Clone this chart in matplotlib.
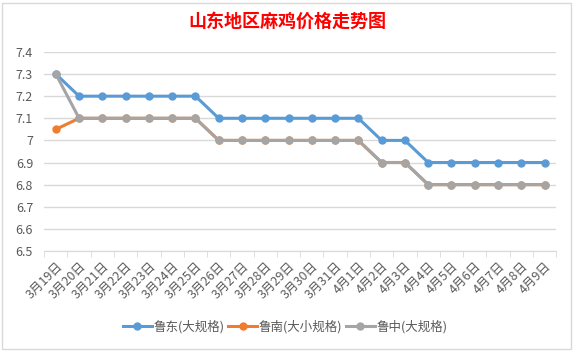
import matplotlib.pyplot as plt
from matplotlib.patches import Rectangle

plt.rcParams['font.family'] = ['Noto Sans CJK SC', 'DejaVu Sans']

dates = ['3月19日', '3月20日', '3月21日', '3月22日', '3月23日', '3月24日', '3月25日',
         '3月26日', '3月27日', '3月28日', '3月29日', '3月30日', '3月31日', '4月1日',
         '4月2日', '4月3日', '4月4日', '4月5日', '4月6日', '4月7日', '4月8日', '4月9日']
ludong = [7.3, 7.2, 7.2, 7.2, 7.2, 7.2, 7.2, 7.1, 7.1, 7.1, 7.1, 7.1, 7.1, 7.1,
          7.0, 7.0, 6.9, 6.9, 6.9, 6.9, 6.9, 6.9]
lunan = [7.05, 7.1, 7.1, 7.1, 7.1, 7.1, 7.1, 7.0, 7.0, 7.0, 7.0, 7.0, 7.0, 7.0,
         6.9, 6.9, 6.8, 6.8, 6.8, 6.8, 6.8, 6.8]
luzhong = [7.3, 7.1, 7.1, 7.1, 7.1, 7.1, 7.1, 7.0, 7.0, 7.0, 7.0, 7.0, 7.0, 7.0,
           6.9, 6.9, 6.8, 6.8, 6.8, 6.8, 6.8, 6.8]
series = [('鲁东(大规格)', ludong, '#5B9BD5'),
          ('鲁南(大小规格)', lunan, '#ED7D31'),
          ('鲁中(大规格)', luzhong, '#A5A5A5')]

fig = plt.figure(figsize=(5.74, 3.51), dpi=100)
fig.patches.append(Rectangle((0.004, 0.006), 0.99, 0.985, transform=fig.transFigure,
                             fill=False, edgecolor='#D9D9D9', linewidth=1))
ax = fig.add_axes([0.077, 0.285, 0.892, 0.567])

x = range(len(dates))
for name, vals, color in series:
    ax.plot(x, vals, color=color, linewidth=2.2, marker='o', markersize=5, label=name)

ax.set_xlim(-0.5, len(dates) - 0.5)
ax.set_ylim(6.5, 7.4)
yt = [6.5 + 0.1 * i for i in range(10)]
ax.set_yticks(yt)
ax.set_yticklabels(['%g' % round(v, 1) for v in yt], color='#595959', fontsize=9)
ax.set_xticks(list(x))
ax.set_xticklabels(dates, rotation=45, ha='right', rotation_mode='anchor',
                   color='#595959', fontsize=9)
ax.set_xticks([i - 0.5 for i in range(len(dates) + 1)], minor=True)
ax.tick_params(axis='x', which='major', length=0, pad=6)
ax.tick_params(axis='x', which='minor', length=4, color='#D9D9D9')
ax.tick_params(axis='y', length=0, pad=8)
ax.grid(axis='y', color='#D9D9D9', linewidth=1)
ax.set_axisbelow(True)
for s in ['top', 'right', 'left']:
    ax.spines[s].set_visible(False)
ax.spines['bottom'].set_color('#D9D9D9')

fig.text(0.5, 0.94, '山东地区麻鸡价格走势图', ha='center', va='center',
         color='#FF0000', fontsize=13, fontweight='bold')
fig.legend(loc='center', bbox_to_anchor=(0.497, 0.07), ncol=3, frameon=False,
           fontsize=9, handlelength=2.3, columnspacing=0.3, handletextpad=0.15,
           labelcolor='#595959')

fig.savefig('out.png')
